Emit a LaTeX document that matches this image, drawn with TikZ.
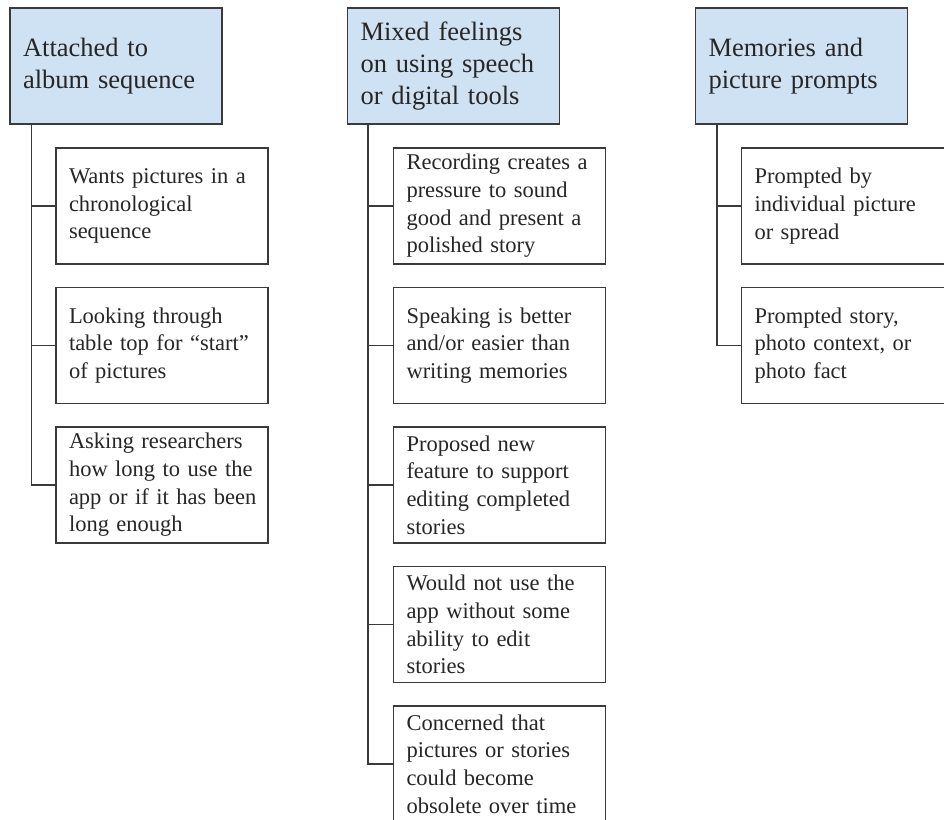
\documentclass[tikz,border=0pt]{standalone}
\usepackage{fontspec}
\setmainfont{Liberation Serif}
\usetikzlibrary{positioning}
\definecolor{headblue}{HTML}{CFE2F3}
\definecolor{edgegray}{HTML}{3A3A3A}
\definecolor{inkgray}{HTML}{262626}

\begin{document}
\begin{tikzpicture}[x=1pt, y=-1pt, line width=1.3pt,
    every node/.style={align=left, text=inkgray},
    theme/.style={draw=edgegray, fill=headblue, text width=186pt, inner xsep=13pt, inner ysep=0pt, minimum height=116pt, font=\fontsize{26.5}{32}\selectfont},
    finding/.style={draw=edgegray, fill=white, text width=186pt, inner xsep=13pt, inner ysep=0pt, minimum height=116pt, font=\fontsize{22.5}{27.7}\selectfont},
    node distance=22.2pt]
    \clip (0,0) rectangle (944,819);

    \node[theme] (album) at (116,66) {Attached to\\album sequence};
    \node[finding, below=22.7pt of album.south west, anchor=north west, xshift=46pt] (chrono) {Wants pictures in a\\chronological\\sequence};
    \node[finding, below=of chrono] (start) {Looking through\\table top for “start”\\of pictures};
    \node[finding, below=of start] (howlong) {Asking researchers\\how long to use the\\app~or~if~it~has~been\\long enough};

    \node[theme] (speech) at (453.5,66) {Mixed feelings\\on using speech\\or digital tools};
    \node[finding, below=22.7pt of speech.south west, anchor=north west, xshift=46pt] (pressure) {Recording creates a\\pressure to sound\\good and present a\\polished story};
    \node[finding, below=of pressure] (easier) {Speaking is better\\and/or easier than\\writing memories};
    \node[finding, below=of easier] (feature) {Proposed new\\feature to support\\editing completed\\stories};
    \node[finding, below=of feature] (noedit) {Would not use the\\app without some\\ability to edit\\stories};
    \node[finding, below=of noedit] (obsolete) {Concerned that\\pictures or stories\\could become\\obsolete over time};

    \node[theme] (prompts) at (801.5,66) {Memories and\\picture prompts};
    \node[finding, below=22.7pt of prompts.south west, anchor=north west, xshift=46pt] (single) {Prompted by\\individual picture\\or spread};
    \node[finding, below=of single] (context) {Prompted story,\\photo context, or\\photo fact};

    % trunks
    \coordinate (albumtrunk) at ([xshift=22pt]album.south west);
    \coordinate (speechtrunk) at ([xshift=21pt]speech.south west);
    \coordinate (promptstrunk) at ([xshift=22pt]prompts.south west);

    \draw[edgegray] (albumtrunk) |- (chrono.west);
    \draw[edgegray] (albumtrunk) |- (start.west);
    \draw[edgegray] (albumtrunk) |- (howlong.west);

    \draw[edgegray] (speechtrunk) |- (pressure.west);
    \draw[edgegray] (speechtrunk) |- (easier.west);
    \draw[edgegray] (speechtrunk) |- (feature.west);
    \draw[edgegray] (speechtrunk) |- (noedit.west);
    \draw[edgegray] (speechtrunk) |- (obsolete.west);

    \draw[edgegray] (promptstrunk) |- (single.west);
    \draw[edgegray] (promptstrunk) |- (context.west);
\end{tikzpicture}
\end{document}
